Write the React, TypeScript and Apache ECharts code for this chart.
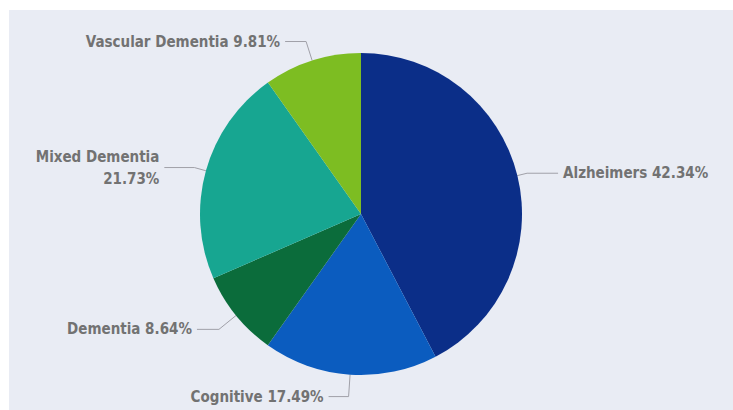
import React, { useEffect, useRef } from "react";
import * as echarts from "echarts";

const categories = ["Alzheimers", "Cognitive", "Dementia", "Mixed Dementia", "Vascular Dementia"];
const values = [42.34, 17.49, 8.64, 21.73, 9.81];
const colors = ["#0b2e88", "#0b5cbf", "#0b6c3b", "#17a691", "#7dbd22"];
const lineLengths = [10, 22, 22, 12, 20];
const lineLengths2 = [31, 20, 22, 30, 21];

export default function App() {
  const ref = useRef<HTMLDivElement>(null);
  useEffect(() => {
    if (!ref.current) return;
    const chart = echarts.init(ref.current, undefined, { renderer: "svg" });
    chart.setOption({
      animation: false,
      backgroundColor: "#e9ecf4",
      series: [
        {
          type: "pie",
          center: [352, 204],
          radius: 161,
          startAngle: 90,
          clockwise: true,
          avoidLabelOverlap: false,
          itemStyle: { borderWidth: 0 },
          label: {
            show: true,
            position: "outside",
            fontFamily: "'DejaVu Sans Condensed', 'DejaVu Sans', sans-serif",
            fontSize: 15,
            fontWeight: "bold",
            color: "#727272",
            lineHeight: 22,
            formatter: (p: any) =>
              p.name === "Mixed Dementia" ? `${p.name}\n${p.value}%` : `${p.name} ${p.value}%`,
          },
          labelLine: {
            show: true,
            lineStyle: { color: "#a0a0a8", width: 1 },
          },
          emphasis: { disabled: true },
          data: categories.map((name, i) => ({
            name,
            value: values[i],
            itemStyle: { color: colors[i] },
            labelLine: { length: lineLengths[i], length2: lineLengths2[i] },
          })),
        },
      ],
    });
    return () => chart.dispose();
  }, []);
  return (
    <div style={{ position: "fixed", left: 0, top: 0, width: 733, height: 410, background: "#ffffff" }}>
      <div ref={ref} style={{ position: "absolute", left: 9, top: 10, width: 724, height: 400 }} />
    </div>
  );
}
